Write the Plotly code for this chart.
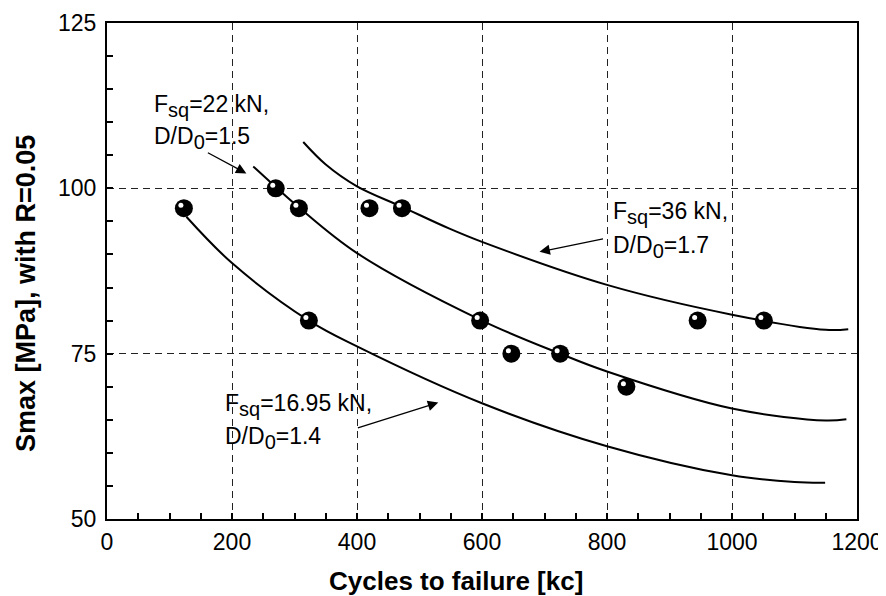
import plotly.graph_objects as go

# Measured fatigue data (cycles in kc, Smax in MPa)
cycles = [123, 270, 307, 420, 472, 323, 597, 647, 725, 831, 945, 1051]
smax = [97, 100, 97, 97, 97, 80, 80, 75, 75, 70, 80, 80]

# Fitted curves
low_x = [127, 200, 323, 400, 600, 800, 1000, 1100, 1149]
low_y = [95.7, 88.7, 80.0, 76.1, 67.5, 61.0, 56.6, 55.6, 55.5]
mid_x = [234, 270, 306, 400, 600, 725, 800, 1000, 1150, 1183]
mid_y = [103.3, 100.2, 97.2, 90.2, 80.0, 75.0, 72.3, 66.7, 64.9, 65.1]
up_x = [314, 350, 400, 472, 548, 600, 800, 1000, 1150, 1186]
up_y = [107.0, 103.6, 100.3, 97.2, 93.9, 91.9, 85.4, 80.9, 78.6, 78.7]

x_ticks = [0, 200, 400, 600, 800, 1000, 1200]
y_ticks = [50, 75, 100, 125]

FONT = "Liberation Sans, Arial, Helvetica, sans-serif"

fig = go.Figure()
for cx, cy in [(low_x, low_y), (mid_x, mid_y), (up_x, up_y)]:
    fig.add_trace(go.Scatter(x=cx, y=cy, mode="lines",
                             line=dict(color="black", width=2, shape="spline", smoothing=1.0),
                             hoverinfo="skip", showlegend=False))
fig.add_trace(go.Scatter(x=cycles, y=smax, mode="markers",
                         marker=dict(color="black", size=18, line=dict(width=0)), showlegend=False))
# specular highlight on the balls (drawn on slightly shifted overlay axes)
fig.add_trace(go.Scatter(x=cycles, y=smax, mode="markers", xaxis="x2", yaxis="y2",
                         marker=dict(color="white", size=5, line=dict(width=0)), showlegend=False))

px_x = 1200 / 750.0
px_y = 75 / 496.0

axis_common = dict(showline=True, linecolor="black", linewidth=2, mirror=True,
                   ticks="inside", ticklen=6, tickwidth=1.5, tickcolor="black",
                   showgrid=True, gridcolor="#222", gridwidth=1, griddash="7px,5px",
                   zeroline=False, tickfont=dict(family=FONT, size=23, color="black"),
                   automargin=False)

# the page body adds an 8px offset; margins compensate so the plot box lands at 107..857 x 23..519
fig.update_layout(
    width=886, height=596,
    margin=dict(l=99, r=37, t=15, b=85, autoexpand=False),
    paper_bgcolor="white", plot_bgcolor="white",
    xaxis=dict(range=[0, 1200], tickvals=x_ticks, ticktext=[str(v) for v in x_ticks],
               ticklabelstandoff=1,
               minor=dict(dtick=50, tick0=0, ticks="inside", ticklen=6, tickcolor="black", showgrid=False),
               **axis_common),
    yaxis=dict(range=[50, 125], tickvals=y_ticks, ticktext=[str(v) for v in y_ticks],
               ticklabelstandoff=4,
               minor=dict(dtick=5, tick0=50, ticks="inside", ticklen=6, tickcolor="black", showgrid=False),
               **axis_common),
    xaxis2=dict(overlaying="x", range=[0 + 3 * px_x, 1200 + 3 * px_x], visible=False, automargin=False),
    yaxis2=dict(overlaying="y", range=[50 - 3 * px_y, 125 - 3 * px_y], visible=False, automargin=False),
)

tfont = dict(family=FONT, size=23, color="black")
SUB = '<sub><span style="font-size:20px">{}</span></sub>'
labels = [
    ("F" + SUB.format("sq") + "=22 kN,", 71.7, 112.4), ("D/D" + SUB.format("0") + "=1.5", 71.7, 107.6),
    ("F" + SUB.format("sq") + "=36 kN,", 807, 96.3), ("D/D" + SUB.format("0") + "=1.7", 807, 91.2),
    ("F" + SUB.format("sq") + "=16.95 kN,", 185.6, 67.3), ("D/D" + SUB.format("0") + "=1.4", 185.6, 62.2),
]
for txt, lx, ly in labels:
    fig.add_annotation(x=lx, y=ly, xref="x", yref="y", text=txt, showarrow=False,
                       xanchor="left", yanchor="middle", font=tfont)

arrows = [((159, 105.5), (223, 102.25)), ((796, 92.4), (692, 90.4)), ((399, 63.7), (530, 67.6))]
for (sx, sy), (ex, ey) in arrows:
    fig.add_annotation(x=ex, y=ey, ax=sx, ay=sy, xref="x", yref="y", axref="x", ayref="y",
                       text="", showarrow=True, arrowhead=2, arrowsize=1.6, arrowwidth=1.3,
                       arrowcolor="black")

fig.add_annotation(x=0.465, y=-0.126, xref="paper", yref="paper", showarrow=False,
                   text="<b>Cycles to failure [kc]</b>", font=dict(family=FONT, size=26, color="black"),
                   xanchor="center", yanchor="middle")
fig.add_annotation(x=-0.107, y=0.455, xref="paper", yref="paper", showarrow=False, textangle=-90,
                   text="<b>Smax [MPa], with R=0.05</b>",
                   font=dict(family=FONT, size=27, color="black"),
                   xanchor="center", yanchor="middle")

fig.write_html("out.html")
